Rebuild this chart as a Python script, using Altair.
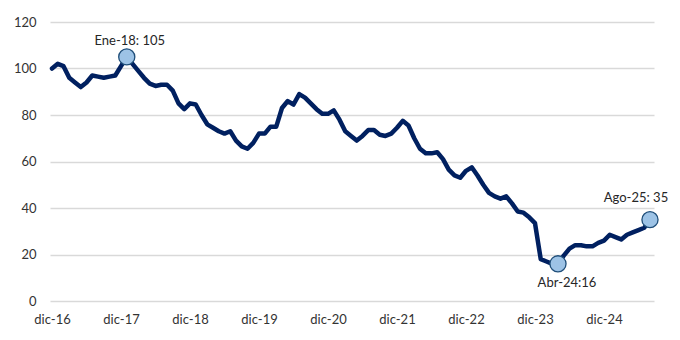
import altair as alt
import pandas as pd

# Monthly index values, dic-16 .. ago-25
values = [
    100, 102, 101, 96, 94, 92, 94, 97, 96.5, 96, 96.5, 97,          # dic-16 .. nov-17
    101, 105, 102, 99, 96, 93.5, 92.5, 93, 93, 90.5, 85, 82.5,       # dic-17 .. nov-18
    85, 84.5, 80, 76, 74.5, 73, 72, 73, 69, 66.5, 65.5, 68,          # dic-18 .. nov-19
    72, 72, 75, 75, 83, 86, 84.5, 89, 87.5, 85, 82.5, 80.5,          # dic-19 .. nov-20
    80.5, 82, 78, 73, 71, 69, 71, 73.5, 73.5, 71.5, 71, 72,          # dic-20 .. nov-21
    74.5, 77.5, 75.5, 70, 65.5, 63.5, 63.5, 64, 61, 56.5, 54, 53,    # dic-21 .. nov-22
    56, 57.5, 54, 50, 46.5, 45, 44, 45, 42, 38.5, 38, 36,            # dic-22 .. nov-23
    33.5, 18, 17, 16, 16, 19.5, 22.5, 24, 24, 23.5, 23.5, 25,        # dic-23 .. nov-24
    26, 28.5, 27.5, 26.5, 28.5, 29.5, 30.5, 31.5, 35,                # dic-24 .. ago-25
]
tick_idx = [0, 12, 24, 36, 48, 60, 72, 84, 96]
tick_labels = ["dic-16", "dic-17", "dic-18", "dic-19", "dic-20",
               "dic-21", "dic-22", "dic-23", "dic-24"]

ann_idx = [13, 88, 104]
ann_val = [105, 16, 35]
ann_text = ["Ene-18: 105", "Abr-24:16", "Ago-25: 35"]

df = pd.DataFrame({"i": list(range(len(values))), "v": values})
ann = pd.DataFrame({"i": ann_idx, "v": ann_val, "t": ann_text})

label_map = "{" + ",".join(f"'{i}':'{l}'" for i, l in zip(tick_idx, tick_labels)) + "}"

FONT = "Lato"

x = alt.X("i:Q", scale=alt.Scale(domain=[-0.35, 104.7], nice=False, zero=False),
          axis=alt.Axis(values=tick_idx, labelExpr=f"{label_map}[datum.value]",
                        grid=False, ticks=False, domain=False, labelPadding=12,
                        labelFontSize=13, labelColor="#333333", labelFont=FONT,
                        title=None))
y = alt.Y("v:Q", scale=alt.Scale(domain=[0, 120], nice=False),
          axis=alt.Axis(values=[0, 20, 40, 60, 80, 100, 120], grid=True,
                        gridColor="#D9D9D9", gridWidth=1.5, ticks=False,
                        domain=False, labelPadding=14, labelFontSize=13,
                        labelColor="#333333", labelFont=FONT, title=None))

line = alt.Chart(df).mark_line(color="#002060", strokeWidth=4.5,
                               strokeJoin="round", strokeCap="round").encode(x=x, y=y)

pts = alt.Chart(ann).mark_point(filled=True, size=260, fill="#9DC3E6",
                                stroke="#1F4E79", strokeWidth=1.3,
                                opacity=1).encode(x="i:Q", y="v:Q")

def label(k, dx, dy):
    return alt.Chart(ann.iloc[[k]]).mark_text(
        font=FONT, fontSize=13, color="#262626", dx=dx, dy=dy
    ).encode(x="i:Q", y="v:Q", text="t:N")

chart = alt.layer(
    line, pts,
    label(0, 3, -16),
    label(1, 9, 19),
    label(2, -14, -22),
).properties(
    width=604, height=279,
    autosize=alt.AutoSizeParams(type="none"),
    padding={"left": 42, "top": 14, "right": 18, "bottom": 31},
).configure_view(stroke=None)

chart.save("out.html", embed_options={"renderer": "svg", "actions": False})
